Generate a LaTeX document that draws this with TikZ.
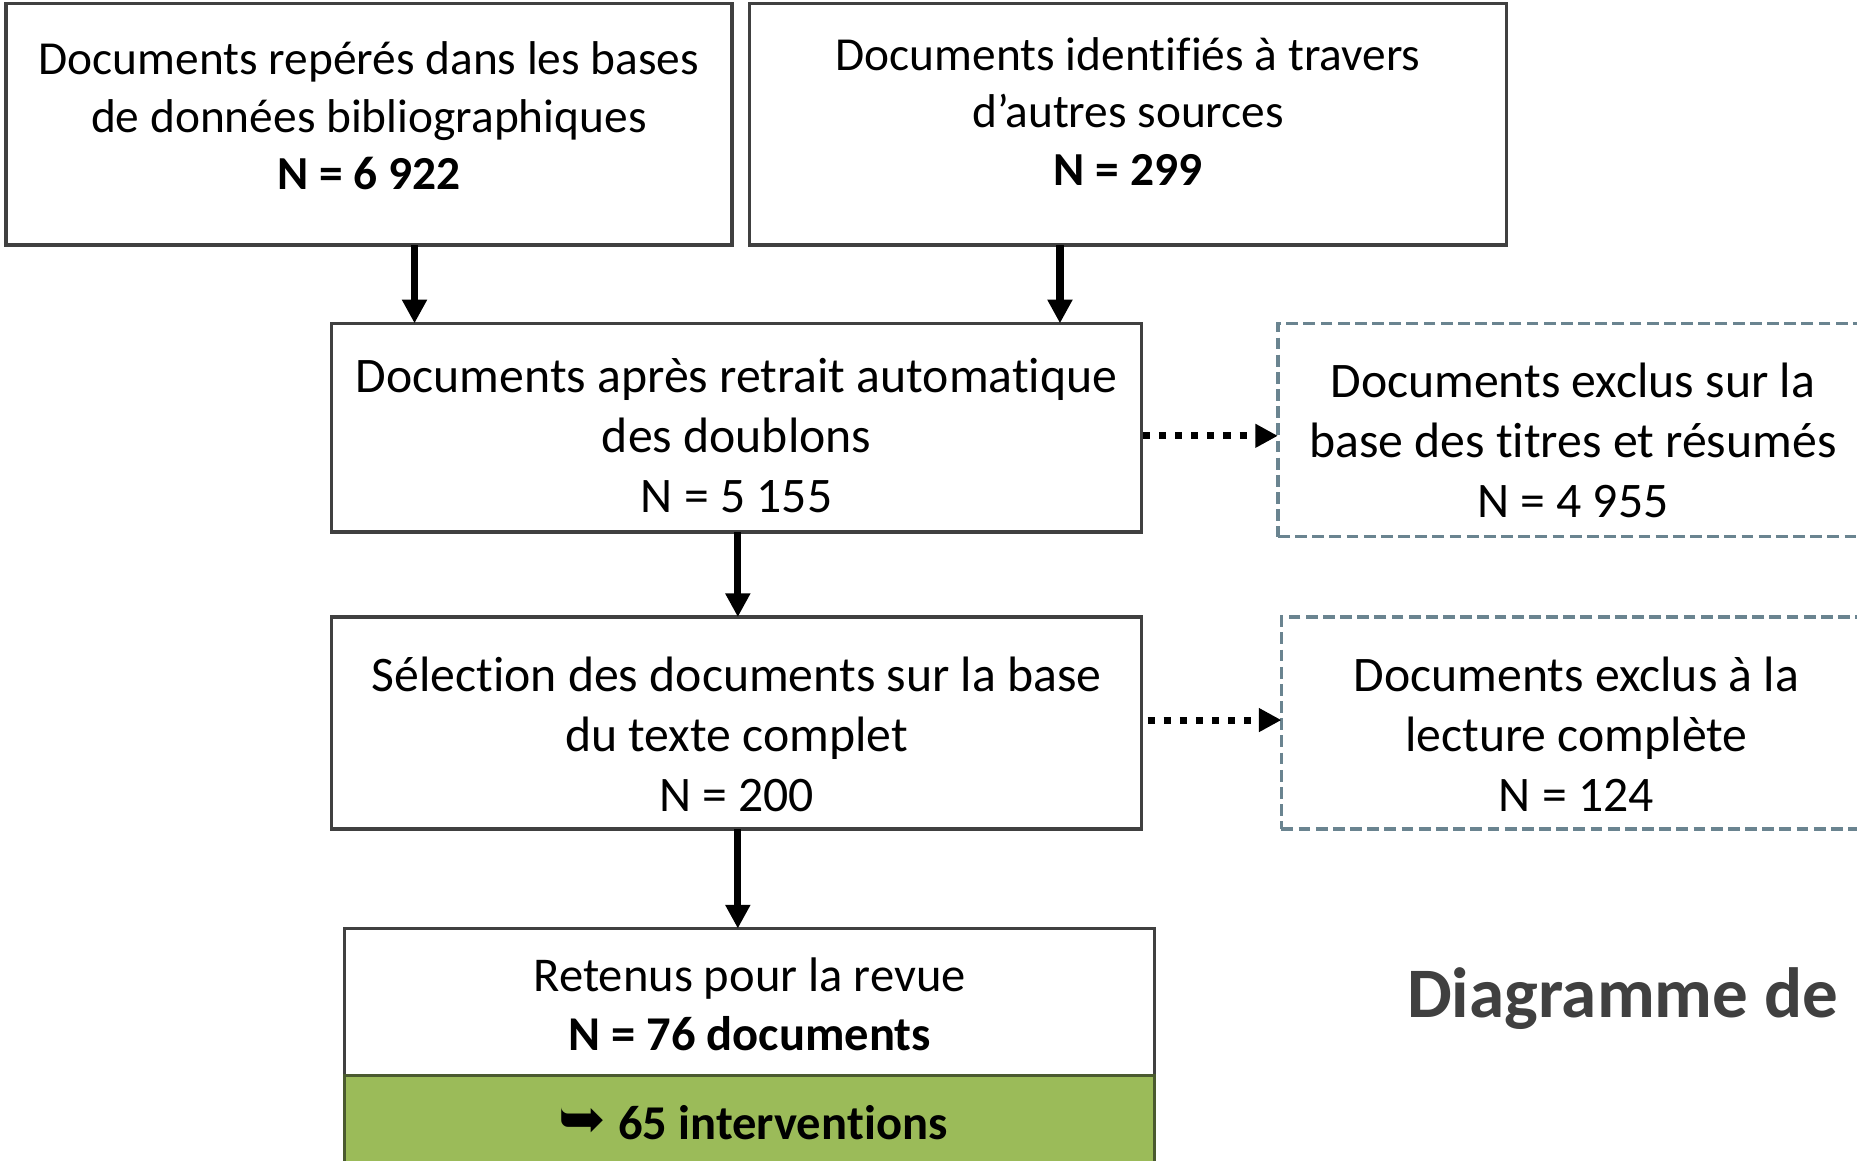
\documentclass[tikz,border=0pt]{standalone}
\usepackage{fontspec}
\setmainfont[Ligatures={NoCommon,NoRare,NoContextual}]{Carlito}
\newfontfamily\symfont{DejaVu Sans}
\usetikzlibrary{arrows.meta}
\definecolor{boxgray}{HTML}{404040}
\definecolor{dashgray}{HTML}{6A8490}
\definecolor{olive}{HTML}{9BBB59}
\definecolor{oliveline}{HTML}{4A5A2F}
\definecolor{titlegray}{HTML}{404040}
\tikzset{
  box/.style={draw=boxgray, line width=3pt, fill=white, inner sep=0pt, outer sep=0pt},
  dbox/.style={draw=dashgray, line width=3pt, dash pattern=on 10pt off 4.5pt, inner sep=0pt, outer sep=0pt},
  gbox/.style={draw=oliveline, line width=3pt, fill=olive, inner sep=0pt, outer sep=0pt},
  txtS/.style={align=center, inner sep=0pt, font=\fontsize{40}{48.5}\selectfont},
  txtM/.style={align=center, inner sep=0pt, font=\fontsize{42}{50.8}\selectfont},
  arr/.style={line width=6pt, -{Triangle[length=20pt,width=20pt]}},
  darr/.style={line width=6pt, dash pattern=on 6pt off 7.6pt, -{Triangle[length=19pt,width=19pt]}},
}
\begin{document}
\begin{tikzpicture}[x=1pt,y=-1pt]
\useasboundingbox (0,0) rectangle (1568,980);
\clip (0,0) rectangle (1568,980);
% top boxes
\node[box, minimum width=613pt, minimum height=204pt] (A) at (311.5,105) {};
\node[txtS] (At) at (311.5,98) {Documents repérés dans les bases\\de données bibliographiques\\\textbf{N = 6 922}};
\node[box, minimum width=639pt, minimum height=204pt] (B) at (952.5,105) {};
\node[txtS] (Bt) at (952.5,94) {Documents iden\kern0pt tifiés à travers\\d’autres sources\\\textbf{N = 299}};
% middle boxes
\node[box, minimum width=684pt, minimum height=176pt] (C) at (622,361) {};
\node[txtM] (Ct) at (622,368) {Documents après retrait automatique\\des doublons\\N = 5 155};
\node[dbox, minimum width=600pt, minimum height=180pt] (D) at (1379,363) {};
\node[txtM] (Dt) at (1328,372) {Documents exclus sur la\\base des t\kern0pt itres et résumés\\N = 4 955};
\node[box, minimum width=684pt, minimum height=179pt] (E) at (622,610.5) {};
\node[txtM] (Et) at (622,620) {Sélec\kern0pt tion des documents sur la base\\du texte complet\\N = 200};
\node[dbox, minimum width=600pt, minimum height=179pt] (F) at (1382,610.5) {};
\node[txtM] (Ft) at (1331,620) {Documents exclus à la\\lecture complète\\N = 124};
% final box
\node[box, minimum width=684pt, minimum height=124pt] (G) at (633,846) {};
\node[txtM, font=\fontsize{41}{50}\selectfont] (Gt) at (633,848) {Retenus pour la revue\\\textbf{N = 76 documents}};
\node[gbox, minimum width=684pt, minimum height=90pt] (H) at (633,953) {};
\node[inner sep=0pt, font=\fontsize{41}{50}\selectfont\bfseries] (Ht) at (636,948) {\raisebox{1pt}{\symfont\fontsize{48}{50}\selectfont ➥}\hspace{10pt}65 interven\kern0pt tions};
% title
\node[anchor=west, inner sep=0pt, text=titlegray, font=\fontsize{60}{72}\selectfont\bfseries] (T) at (1188,843) {Diagramme de};
% connectors
\draw[arr] (A.south -| 350,0) -- (C.north -| 350,0);
\draw[arr] (B.south -| 895,0) -- (C.north -| 895,0);
\draw[arr] (C.south -| 623,0) -- (E.north -| 623,0);
\draw[arr] (E.south -| 623,0) -- (G.north -| 623,0);
\draw[darr] ([xshift=1pt]C.east |- 0,368) -- (D.west |- 0,368);
\draw[darr] ([xshift=5pt]E.east |- 0,608) -- (F.west |- 0,608);
\end{tikzpicture}
\end{document}
